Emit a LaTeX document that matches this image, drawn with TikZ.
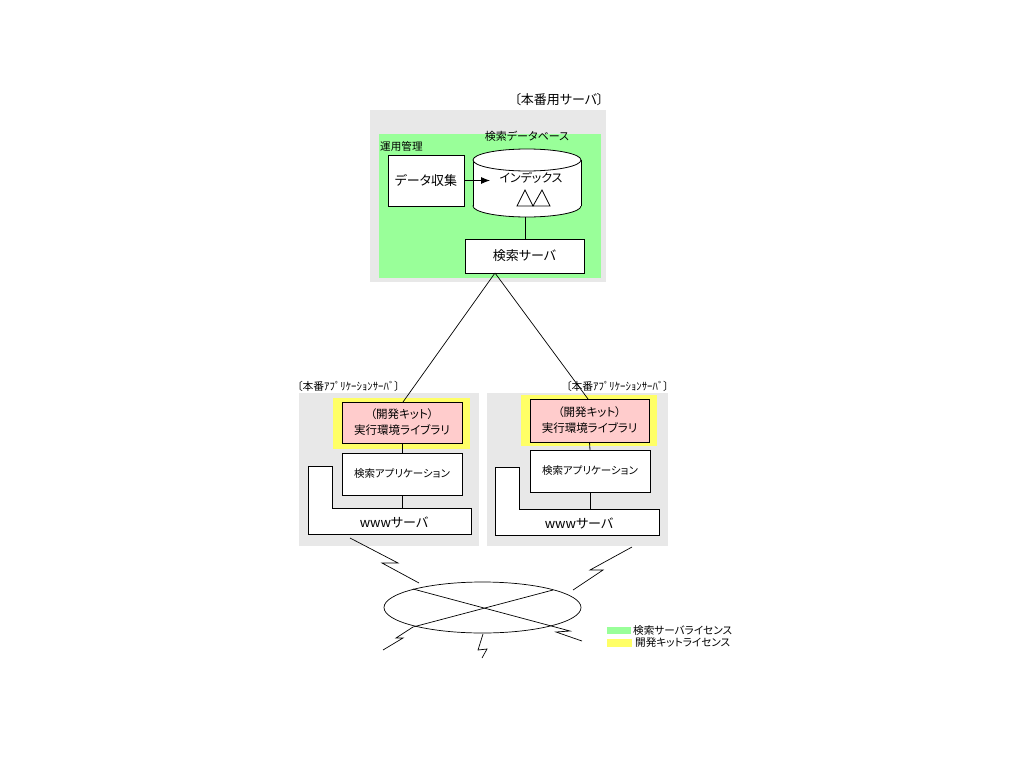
\documentclass[tikz,border=0pt]{standalone}
\usepackage{fontspec}
\newfontfamily\jp{Noto Sans CJK JP}[RawFeature=+palt]
\usetikzlibrary{arrows.meta}
\definecolor{gbg}{HTML}{E8E8E8}
\definecolor{lgreen}{HTML}{99FF99}
\definecolor{lyellow}{HTML}{FFFF66}
\definecolor{lpink}{HTML}{FFCCCC}
\tikzset{
  box/.style={draw=black, line width=0.8pt, fill=white, inner sep=0pt, outer sep=0pt, font=\jp\fontsize{13}{15}\selectfont},
  pinkbox/.style={box, fill=lpink, align=center, font=\jp\fontsize{11.5}{16}\selectfont},
  lbl/.style={inner sep=0pt, font=\jp\fontsize{10.6}{12}\selectfont},
  half/.style={inner sep=0pt, font=\jp\fontsize{10.8}{12}\selectfont},
  ln/.style={draw=black, line width=0.8pt},
  thin/.style={draw=black, line width=0.7pt}
}
\begin{document}
\begin{tikzpicture}[x=1pt,y=-1pt]
\useasboundingbox (0,0) rectangle (1024,768);
% ---- production server ----
\node[inner sep=0pt, font=\jp\fontsize{13}{15}\selectfont] (mainlbl) at (559,100) {〔本番用サーバ〕};
\fill[gbg] (370,110) rectangle (606,282);
\fill[lgreen] (379,134) rectangle (601,278);
\node[inner sep=0pt, font=\jp\fontsize{11}{13}\selectfont] (dblbl) at (527,136) {検索データベース};
\node[lbl, anchor=west] (opmgmt) at (380,146) {運用管理};
\node[box, minimum width=76pt, minimum height=51pt] (dc) at (426,180.5) {データ収集};
% cylinder
\filldraw[fill=white, ln] (527,206) ellipse [x radius=54, y radius=11];
\fill[white] (473,160) rectangle (581,206);
\draw[ln] (473,160) -- (473,206);
\draw[ln] (581,160) -- (581,206);
\filldraw[fill=white, ln] (527,160) ellipse [x radius=54, y radius=11];
\coordinate (dbbot) at (525,217);
\node[inner sep=0pt, font=\jp\fontsize{12}{14}\selectfont] (idx) at (531,178) {インデックス};
\draw[ln] (517,206) -- (525,190) -- (533,206) -- (542,190) -- (550,206) -- cycle;
\draw[ln, -{Latex[length=9pt,width=7pt]}] (dc.east) -- (490,180.5);
\node[box, minimum width=119pt, minimum height=34pt] (ss) at (524.5,256) {検索サーバ};
\draw[ln] (dbbot) -- (dbbot |- ss.north);
% ---- left app server ----
\fill[gbg] (299,393) rectangle (479,546);
\node[half, anchor=west] (llbl) at (297,386) {〔本番ｱﾌﾟﾘｹｰｼｮﾝｻｰﾊﾞ〕};
\fill[lyellow] (333,398) rectangle (470,449);
\node[pinkbox, minimum width=120pt, minimum height=41pt] (lk) at (402,422.5) {（開発キット）\\実行環境ライブラリ};
\node[box, minimum width=120pt, minimum height=42pt, font=\jp\fontsize{10.5}{13}\selectfont] (la) at (402,474) {検索アプリケーション};
\filldraw[fill=white, ln] (308,466) -- (332,466) -- (332,508) -- (471,508) -- (471,534) -- (308,534) -- cycle;
\coordinate (lwtop) at (402,508);
\node[inner sep=0pt, font=\jp\fontsize{13}{15}\selectfont] (lwww) at (394,522) {wwwサーバ};
\draw[ln] (lk.south) -- (la.north);
\draw[ln] (la.south) -- (lwtop);
% ---- right app server ----
\fill[gbg] (487,393) rectangle (668,546);
\fill[lyellow] (521,395) rectangle (657,446);
\node[pinkbox, minimum width=119pt, minimum height=43pt] (rk) at (589.5,420.5) {（開発キット）\\実行環境ライブラリ};
\node[box, minimum width=120pt, minimum height=42pt, font=\jp\fontsize{10.5}{13}\selectfont] (ra) at (590,471) {検索アプリケーション};
\filldraw[fill=white, ln] (495,467) -- (519,467) -- (519,509) -- (659,509) -- (659,535) -- (495,535) -- cycle;
\coordinate (rwtop) at (590,509);
\node[inner sep=0pt, font=\jp\fontsize{13}{15}\selectfont] (rwww) at (579,523) {wwwサーバ};
\draw[ln] (rk.south) -- (ra.north);
\draw[ln] (ra.south) -- (rwtop);
% ---- links from search server ----
\coordinate (ssb) at (495,273);
\coordinate (lkt) at (403,402);
\coordinate (rkt) at (588,399);
\draw[thin] (ssb) -- (lkt);
\draw[thin] (ssb) -- (rkt);
\node[half, anchor=west] (rlbl) at (566,386) {〔本番ｱﾌﾟﾘｹｰｼｮﾝｻｰﾊﾞ〕};
% ---- network ----
\draw[thin] (482.5,607.5) ellipse [x radius=98.5, y radius=25.5];
\draw[thin] (350,538) -- (398,563) -- (382,563) -- (419,583);
\draw[thin] (632,547) -- (590,570) -- (603,570) -- (573,590);
\draw[thin] (413,589) -- (570,631) -- (556,632) -- (582,641);
\draw[thin] (553,590) -- (413,627) -- (396,638) -- (403,638) -- (383,650);
\draw[thin] (483,634) -- (478,650) -- (487,649) -- (482,658);
% ---- legend ----
\fill[lgreen] (607,627) rectangle (631,634);
\fill[lyellow] (607,639) rectangle (632,647);
\node[lbl, anchor=west] (leg1) at (633,630.5) {検索サーバライセンス};
\node[lbl, anchor=west] (leg2) at (635,642.5) {開発キットライセンス};
\end{tikzpicture}
\end{document}
